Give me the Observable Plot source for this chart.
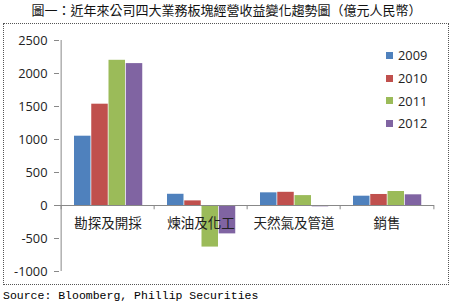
<!DOCTYPE html>
<html>
<head>
<meta charset="utf-8">
<script src="https://cdn.jsdelivr.net/npm/d3@7"></script>
<script src="https://cdn.jsdelivr.net/npm/@observablehq/plot@0.6"></script>
<style>
  html, body { margin: 0; padding: 0; background: #fff; }
  body { width: 453px; height: 304px; position: relative; overflow: hidden; }
  #title { position: absolute; left: 0; top: 2px; width: 453px; text-align: center;
    font: 13px "Noto Sans CJK TC", sans-serif; color: #111; line-height: 16px; padding-left: 0; }
  #box { position: absolute; left: 3px; top: 23px; width: 444px; height: 260px; border: 1px dotted #555; }
  #chart { position: absolute; left: 0; top: 0; }
  #legend { position: absolute; left: 382px; top: 20px; font: 12.8px "Open Sans", sans-serif; color: #222; }
  .row { height: 22.7px; display: flex; align-items: center; }
  .sw { width: 7px; height: 7px; margin-right: 5px; }
  #source { position: absolute; left: 3px; top: 288px; font: 11.5px "Liberation Mono", monospace; color: #000; line-height: 16px; }
</style>
</head>
<body>
<div id="title">圖一：近年來公司四大業務板塊經營收益變化趨勢圖（億元人民幣）</div>
<div id="box"><div id="chart"></div><div id="legend"></div></div>
<div id="source">Source: Bloomberg, Phillip Securities</div>
<script>
const categories = ["勘探及開採", "煉油及化工", "天然氣及管道", "銷售"];
const years = ["2009", "2010", "2011", "2012"];
const v2009 = [1050, 170, 192, 141];
const v2010 = [1535, 70, 200, 167];
const v2011 = [2200, -630, 150, 212];
const v2012 = [2150, -430, -20, 162];
const yTicks = [-1000, -500, 0, 500, 1000, 1500, 2000, 2500];
const colors = ["#4F81BD", "#C0504D", "#9BBB59", "#8064A2"];

const series = [v2009, v2010, v2011, v2012];
const W = 444, H = 260, ml = 55, mr = 14, mt = 16, mb = 13;
const bw = (W - ml - mr) / categories.length;
const groupOffset = 13, barW = 17.25;

const barMarks = series.map((vals, j) => Plot.barY(
  categories.map((c, i) => ({category: c, value: vals[i], year: years[j]})),
  {x: "category", y: "value", fill: colors[j],
   insetLeft: groupOffset + j * barW,
   insetRight: bw - groupOffset - (j + 1) * barW}
));

const boundaries = [...categories.map(c => ({c, side: -1})), {c: categories[categories.length - 1], side: 1}];

const chart = Plot.plot({
  width: W, height: H,
  marginLeft: ml, marginRight: mr, marginTop: mt, marginBottom: mb,
  style: {fontFamily: "Open Sans, sans-serif", background: "transparent"},
  x: {domain: categories, padding: 0, axis: null},
  y: {domain: [-1000, 2500], axis: null},
  marks: [
    Plot.axisY({ticks: yTicks, tickSize: 5, tickPadding: 7, tickFormat: d => String(d),
      fontSize: 12.8, stroke: "#888", fill: "#222", label: null}),
    Plot.ruleX([categories[0]], {x: d => d, y1: -1000, y2: 2500, dx: -bw / 2, stroke: "#888"}),
    ...barMarks,
    Plot.ruleY([0], {stroke: "#888"}),
    Plot.ruleX(boundaries.filter(b => b.side < 0), {x: "c", y1: 0, y2: -65, dx: -bw / 2, stroke: "#888"}),
    Plot.ruleX(boundaries.filter(b => b.side > 0), {x: "c", y1: 0, y2: -65, dx: bw / 2, stroke: "#888"}),
    Plot.text(categories, {x: d => d, y: 0, dy: 18, text: d => d, fontSize: 13.5,
      fontFamily: "Noto Sans CJK TC, sans-serif", fill: "#222"})
  ]
});
document.getElementById("chart").appendChild(chart);

const legend = document.getElementById("legend");
years.forEach((y, j) => {
  const row = document.createElement("div");
  row.className = "row";
  const sw = document.createElement("div");
  sw.className = "sw";
  sw.style.background = colors[j];
  const t = document.createElement("span");
  t.textContent = y;
  row.appendChild(sw); row.appendChild(t);
  legend.appendChild(row);
});
</script>
</body>
</html>
